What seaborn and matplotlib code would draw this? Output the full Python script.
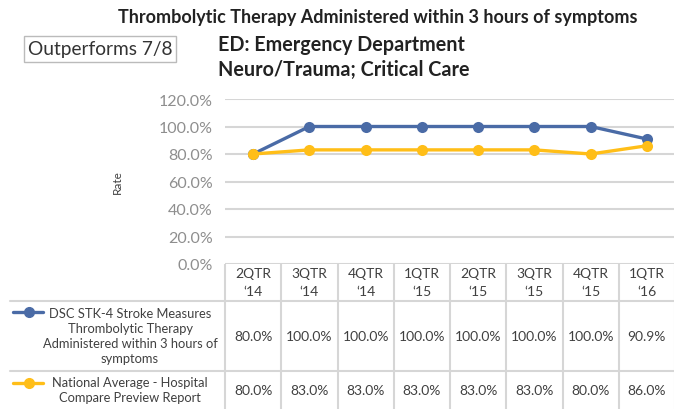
import numpy as np
import pandas as pd
import seaborn as sns
import matplotlib.pyplot as plt

# chart data
quarters = ["2QTR\n\u201814", "3QTR\n\u201814", "4QTR\n\u201814", "1QTR\n\u201815",
            "2QTR\n\u201815", "3QTR\n\u201815", "4QTR\n\u201815", "1QTR\n\u201816"]
dsc_rate = [0.80, 1.00, 1.00, 1.00, 1.00, 1.00, 1.00, 0.909]
national_avg = [0.80, 0.83, 0.83, 0.83, 0.83, 0.83, 0.80, 0.86]
series_names = ["DSC STK-4 Stroke Measures\nThrombolytic Therapy\nAdministered within 3 hours of\nsymptoms",
                "National Average - Hospital\nCompare Preview Report"]
y_ticks = [0.0, 0.2, 0.4, 0.6, 0.8, 1.0, 1.2]

blue = "#4A6BA6"
gold = "#FFBE18"
grid_col = "#D6D6D6"
text_col = "#404040"

sns.set_theme(style="white")
plt.rcParams['font.family'] = ['Lato', 'DejaVu Sans']

df = pd.DataFrame({
    "x": list(range(len(quarters))) * 2,
    "rate": dsc_rate + national_avg,
    "series": [series_names[0]] * len(quarters) + [series_names[1]] * len(quarters),
})

W, H = 674, 410
fig = plt.figure(figsize=(W / 100, H / 100), dpi=100)

# main plot area (pixel layout converted to figure fractions)
left_px, right_px, top_px, bottom_px = 225, 675, 100, 265
ax = fig.add_axes([left_px / W, (H - bottom_px) / H, (right_px - left_px) / W, (bottom_px - top_px) / H])
sns.lineplot(data=df, x="x", y="rate", hue="series", palette=[blue, gold],
             marker="o", markersize=8, markeredgewidth=0, linewidth=2.4,
             sort=False, legend=False, ax=ax)
ax.set_xlim(-0.5, len(quarters) - 0.5)
ax.set_ylim(0, 1.2)
ax.set_yticks(y_ticks)
ax.set_yticklabels([f"{v:.1%}" for v in y_ticks], color="#8E8E8E", fontsize=11.5)
ax.tick_params(axis="y", length=0, pad=9)
ax.set_xticks([])
ax.set_xlabel("")
ax.set_ylabel("Rate", fontsize=8.5, color=text_col, labelpad=26)
for s in ax.spines.values():
    s.set_visible(False)
for v in y_ticks:
    ax.axhline(v, color=grid_col, lw=1.5, zorder=0)

# data table below the plot
unit = (right_px - left_px) / len(quarters)
tab = fig.add_axes([0, 0, 1, (H - bottom_px) / H])
tab.set_xlim(-0.5 - left_px / unit, len(quarters) - 0.5 + (W - right_px) / unit)
tab.set_ylim(H - bottom_px, 0)
tab.axis("off")
x0 = -0.5 - (left_px - 10) / unit
for i in range(len(quarters) + 1):
    tab.plot([i - 0.5, i - 0.5], [0, H - bottom_px], color=grid_col, lw=1.5)
for yy in [37, 107]:
    tab.plot([x0, len(quarters) - 0.5], [yy, yy], color=grid_col, lw=1.5)
for i, q in enumerate(quarters):
    tab.text(i, 18, q, ha="center", va="center", fontsize=10, color=text_col, linespacing=1.5)
    tab.text(i, 72, f"{dsc_rate[i]:.1%}", ha="center", va="center", fontsize=10, color=text_col)
    tab.text(i, 126, f"{national_avg[i]:.1%}", ha="center", va="center", fontsize=10, color=text_col)

label_x = -0.5 - (left_px - 130) / unit
key_l, key_r, key_m = [-0.5 - (left_px - p) / unit for p in (13, 43, 29)]
for name, col, ymid, ykey in [(series_names[0], blue, 72, 48), (series_names[1], gold, 126, 119)]:
    tab.text(label_x, ymid, name, ha="center", va="center", fontsize=9.3, color=text_col, linespacing=1.3)
    tab.plot([key_l, key_r], [ykey, ykey], color=col, lw=2.4)
    tab.plot([key_m], [ykey], "o", color=col, markersize=7)

# titles
fig.text(378 / W, 1 - 18 / H, "Thrombolytic Therapy Administered within 3 hours of symptoms",
         ha="center", va="center", fontsize=13, fontweight="bold", color="#222222")
fig.text(218 / W, 1 - 45 / H, "ED: Emergency Department", ha="left", va="center",
         fontsize=14.2, fontweight="bold", color="#222222")
fig.text(218 / W, 1 - 70 / H, "Neuro/Trauma; Critical Care", ha="left", va="center",
         fontsize=14.2, fontweight="bold", color="#222222")
fig.text(100 / W, 1 - 50 / H, "Outperforms 7/8", ha="center", va="center", fontsize=13.8,
         color="#333333",
         bbox=dict(boxstyle="square,pad=0.22", facecolor="white", edgecolor="#BBBBBB", lw=1))

fig.savefig("out.png", dpi=100)
